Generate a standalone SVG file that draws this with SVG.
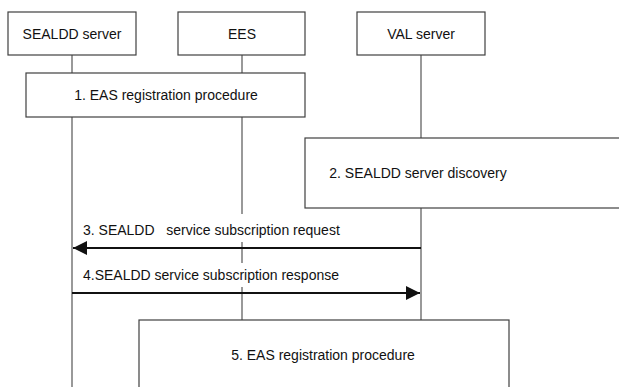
<svg xmlns="http://www.w3.org/2000/svg" width="619" height="387" viewBox="0 0 619 387">
<defs>
<style>
.box{fill:#fff;stroke:#404040;stroke-width:1.2}
.life{stroke:#555;stroke-width:1.2;fill:none}
.msg{stroke:#111;stroke-width:2;fill:none}
text{font-family:"Liberation Sans",Arial,sans-serif;font-size:14px;fill:#111;white-space:pre}
.c{text-anchor:middle}
</style>
<marker id="ah" viewBox="0 0 10 10" refX="10" refY="5" markerWidth="7" markerHeight="7" markerUnits="strokeWidth" orient="auto-start-reverse">
<path d="M0,0 L10,5 L0,10 Z" fill="#111"/>
</marker>
</defs>
<rect width="619" height="387" fill="#fff"/>
<g id="lifelines">
<line class="life" x1="72" y1="55" x2="72" y2="387"/>
<line class="life" x1="242" y1="55" x2="242" y2="320"/>
<line class="life" x1="421" y1="55" x2="421" y2="320"/>
</g>
<g id="sealdd"><rect class="box" x="8" y="12" width="128" height="43"/><text class="c" x="72" y="39">SEALDD server</text></g>
<g id="ees"><rect class="box" x="178" y="12" width="127" height="43"/><text class="c" x="242" y="39">EES</text></g>
<g id="val"><rect class="box" x="357" y="12" width="128" height="43"/><text class="c" x="421" y="39">VAL server</text></g>
<g id="step1"><rect class="box" x="26" y="73" width="279" height="44"/><text class="c" x="166" y="100">1. EAS registration procedure</text></g>
<g id="step2"><rect class="box" x="305" y="138" width="320" height="70"/><text class="c" x="418" y="178">2. SEALDD server discovery</text></g>
<g id="step5"><rect class="box" x="139" y="320" width="370" height="80"/><text class="c" x="323" y="360">5. EAS registration procedure</text></g>
<g id="connectors">
<rect x="80" y="214" width="272" height="28" fill="#fff"/>
<text x="83" y="235" xml:space="preserve">3. SEALDD   service subscription request</text>
<line class="msg" x1="421" y1="248" x2="73" y2="248" marker-end="url(#ah)"/>
<rect x="80" y="263" width="272" height="24" fill="#fff"/>
<text x="83" y="280">4.SEALDD service subscription response</text>
<line class="msg" x1="72" y1="293" x2="420" y2="293" marker-end="url(#ah)"/>
</g>
</svg>
